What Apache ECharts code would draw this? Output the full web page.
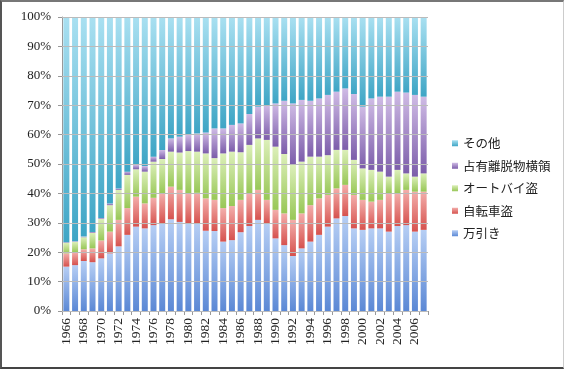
<!DOCTYPE html>
<html><head><meta charset="utf-8">
<script src="https://cdn.jsdelivr.net/npm/echarts@6/dist/echarts.min.js"></script>
<style>
html,body{margin:0;padding:0;background:#fff;}
#c{width:564px;height:369px;box-sizing:border-box;border-left:2px solid #555;border-top:2px solid #777;border-bottom:2px solid #444;border-right:1px solid #ccc;}
</style></head>
<body><div id="c"></div>
<script>
const years = [];
for (let y = 1966; y <= 2007; y++) years.push(String(y));
// segment shares (%)
const manbiki = [15.1,15.6,17.0,16.6,17.9,19.6,22.0,25.9,28.7,28.1,29.2,29.8,31.2,30.3,29.8,29.8,27.3,27.2,23.6,24.1,26.8,28.9,31.0,29.6,24.7,22.4,18.7,21.3,23.6,25.9,28.7,31.5,32.3,28.1,27.6,28.1,28.1,27.0,28.9,29.2,27.0,27.6];
const jitensha = [4.5,4.4,4.0,4.7,6.1,7.4,9.0,9.1,10.2,8.5,9.3,10.2,11.1,10.9,10.2,10.4,11.0,10.6,11.4,11.6,11.0,11.1,10.2,8.2,9.7,10.8,12.3,11.9,12.4,12.4,10.8,10.2,10.6,11.4,10.2,9.1,9.7,13.0,11.1,12.0,13.6,13.0];
const autobike = [3.6,3.5,4.1,5.3,7.3,9.0,10.2,11.3,9.3,10.8,12.3,11.7,11.9,12.7,14.4,14.0,15.3,14.2,18.6,18.5,16.2,16.5,17.5,20.4,21.5,20.2,18.7,17.6,16.5,14.2,13.5,13.1,11.9,11.9,10.7,10.8,9.6,5.7,8.0,5.6,5.1,6.2];
const senyuu = [0.2,0.2,0.2,0.3,0.3,0.6,0.5,1.1,1.5,1.9,1.7,3.1,4.5,5.4,5.5,6.2,7.1,10.1,8.5,9.1,9.8,10.5,10.8,11.8,14.7,18.1,20.9,21.0,19.0,19.8,20.5,19.8,20.9,22.4,21.0,24.3,25.5,27.2,26.6,27.5,27.8,26.1];
const sonota = [76.6,76.3,74.7,73.1,68.4,63.4,58.3,52.6,50.3,50.7,47.5,45.2,41.3,40.7,40.1,39.6,39.3,37.9,37.9,36.7,36.2,33.0,30.5,30.0,29.4,28.5,29.4,28.2,28.5,27.7,26.5,25.4,24.3,26.2,30.5,27.7,27.1,27.1,25.4,25.7,26.5,27.1];
const names = ['万引き','自転車盗','オートバイ盗','占有離脱物横領','その他'];

const grad = (a,b) => new echarts.graphic.LinearGradient(0,0,0,1,[{offset:0,color:a},{offset:1,color:b}]);
const styles = [
  grad('#b6cef4','#5b88d5'),
  grad('#f3aeab','#d6524e'),
  grad('#dcefb9','#98c757'),
  grad('#cfbbe5','#7c5daa'),
  grad('#a9e0f1','#3ea5c5')
];
const datas = [manbiki, jitensha, autobike, senyuu, sonota];
const series = datas.map((d,i)=>({
  name: names[i], type:'bar', stack:'all', data:d,
  barWidth:6, itemStyle:{color:styles[i]}
}));

const gridBox = {left:60,right:135,top:15,bottom:56};
const chart = echarts.init(document.getElementById('c'));
chart.setOption({
  animation:false,
  textStyle:{fontFamily:'Liberation Serif'},
  grid:[Object.assign({}, gridBox), Object.assign({}, gridBox)],
  legend:{
    orient:'vertical', left:445, top:130,
    data:['その他','占有離脱物横領','オートバイ盗','自転車盗','万引き'],
    itemWidth:6, itemHeight:6, itemGap:10, icon:'rect',
    textStyle:{fontFamily:'Noto Sans CJK JP', fontSize:12.5, color:'#222'}
  },
  xAxis:[{
    type:'category', data:years,
    axisLine:{lineStyle:{color:'#999'}},
    axisTick:{show:true, interval:0, length:4, lineStyle:{color:'#999'}},
    axisLabel:{interval:1, rotate:90, fontSize:13.5, color:'#222', margin:7, fontFamily:'Liberation Serif'}
  },{
    type:'value', gridIndex:1, min:0, max:1, show:false
  }],
  yAxis:[{
    type:'value', min:0, max:100, interval:10,
    axisLine:{show:true, lineStyle:{color:'#999'}},
    axisTick:{show:true, length:4, lineStyle:{color:'#999'}},
    axisLabel:{formatter:'{value}%', fontSize:13, color:'#222', margin:11, fontFamily:'Liberation Serif'},
    splitLine:{show:false}
  },{
    type:'value', gridIndex:1, min:0, max:100, interval:10, zlevel:1,
    axisLine:{show:false}, axisTick:{show:false}, axisLabel:{show:false},
    splitLine:{show:true, lineStyle:{color:'#bbb'}}
  }],
  series: series
});
</script></body></html>
